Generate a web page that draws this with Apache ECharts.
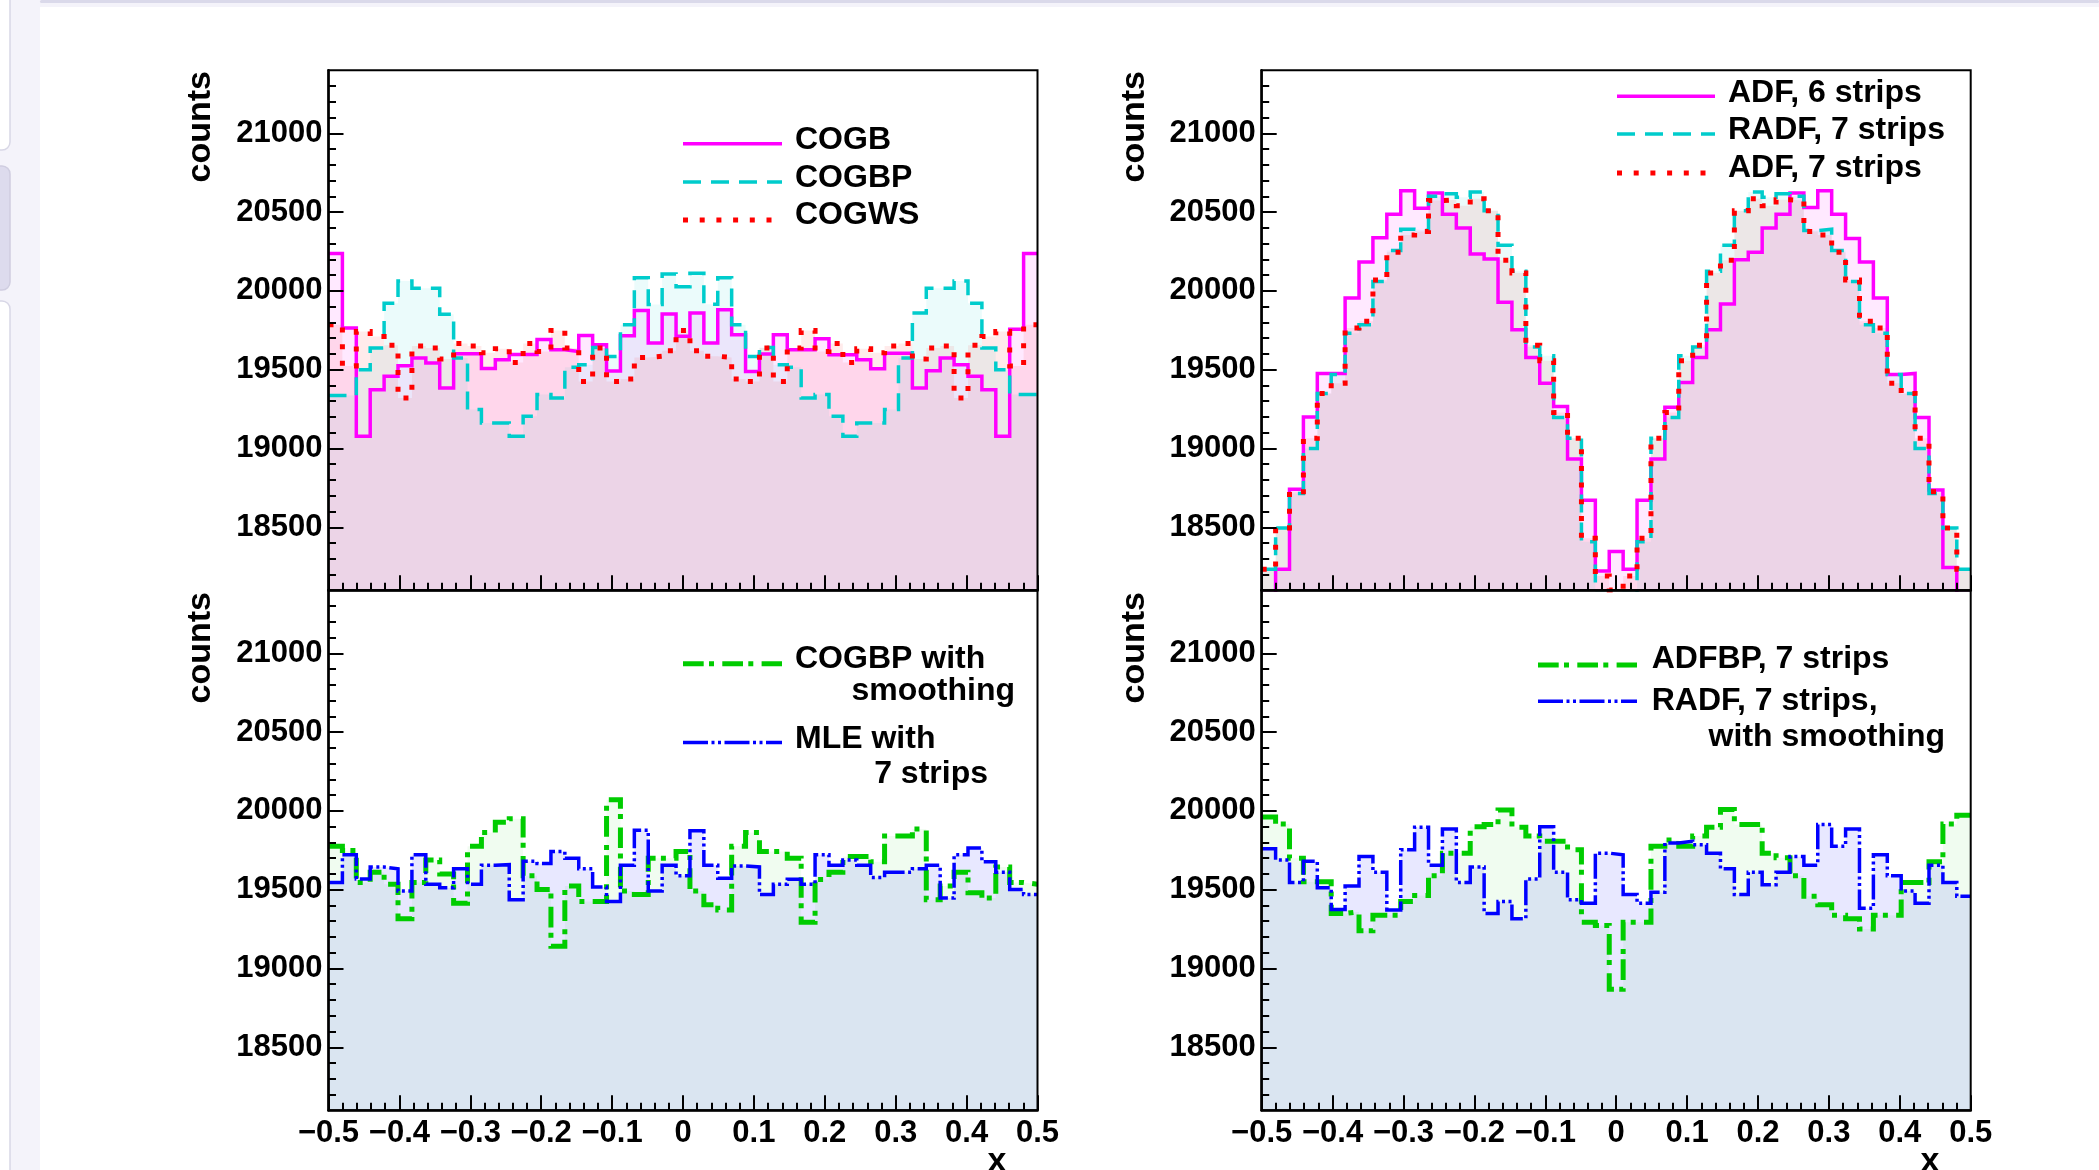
<!DOCTYPE html>
<html><head><meta charset="utf-8">
<script src="https://cdn.jsdelivr.net/npm/echarts@6/dist/echarts.min.js"></script>
<style>html,body{margin:0;padding:0;background:#fff;overflow:hidden}#c{width:2099px;height:1170px}</style>
</head><body><div id="c"></div>
<script>
// ---------- axis definition ----------
const NBINS = 51, XMIN = -0.5, XMAX = 0.5;
const Y_MIN = 18100, Y_MAX = 21400;
const Y_MAJOR = [18500, 19000, 19500, 20000, 20500, 21000];
const Y_MINOR = [];
for (let v = 18200; v <= 21300; v += 100) Y_MINOR.push(v);

// ---------- data (counts per bin) ----------
const cogb = [20238,19764,19078,19373,19458,19525,19574,19542,19384,19601,19601,19508,19563,19597,19597,19692,19627,19616,19717,19658,19492,19715,19876,19669,19854,19713,19859,19669,19880,19722,19489,19599,19722,19627,19627,19696,19595,19595,19563,19506,19605,19605,19384,19494,19574,19532,19458,19373,19078,19757,20238];
const cogbp = [19337,19337,19500,19637,19922,20063,20017,20017,19852,19574,19247,19162,19162,19078,19205,19342,19321,19515,19532,19641,19584,19785,20084,19913,20108,20027,20112,19916,20084,19785,19584,19641,19532,19515,19321,19342,19205,19078,19162,19162,19247,19574,19859,20017,20017,20063,19922,19637,19500,19342,19342];
const cogws = [19786,19524,19742,19710,19655,19320,19651,19638,19568,19666,19651,19607,19633,19546,19666,19616,19749,19638,19425,19638,19425,19441,19578,19585,19620,19749,19620,19585,19578,19441,19425,19638,19425,19638,19749,19616,19666,19546,19633,19607,19651,19666,19568,19638,19651,19320,19655,19710,19742,19524,19786];
const cogbpSmooth = [19775,19749,19546,19611,19535,19316,19546,19688,19600,19414,19775,19863,19928,19950,19589,19502,19141,19524,19425,19425,20071,19491,19469,19699,19699,19742,19491,19404,19371,19775,19863,19742,19742,19699,19294,19565,19611,19710,19710,19677,19841,19841,19885,19436,19524,19611,19480,19447,19644,19546,19535];
const mle7 = [19546,19721,19568,19644,19633,19491,19721,19535,19513,19633,19535,19655,19659,19436,19681,19666,19742,19699,19633,19517,19425,19655,19878,19491,19655,19589,19874,19655,19572,19650,19644,19469,19535,19567,19535,19721,19655,19688,19655,19578,19611,19611,19633,19655,19447,19721,19764,19677,19611,19502,19469];
const adf6 = [18080,18233,18741,19200,19476,19476,19955,20184,20337,20486,20635,20525,20622,20486,20399,20235,20202,19928,19753,19578,19414,19266,18933,18671,18222,18347,18233,18671,18933,19261,19419,19578,19753,19917,20197,20245,20399,20486,20622,20530,20635,20486,20333,20184,19955,19469,19476,19196,18737,18244,18080];
const radf7 = [18233,18496,18714,19000,19349,19469,19732,19786,20060,20256,20392,20383,20600,20617,20595,20628,20508,20289,20125,19644,19589,19196,19065,18408,18080,18080,18080,18408,19065,19196,19589,19644,20125,20289,20508,20628,20595,20617,20600,20383,20392,20256,20060,19786,19732,19469,19349,19000,18714,18496,18233];
const adf7 = [18233,18496,18725,19065,19349,19414,19764,19808,20070,20245,20355,20377,20574,20578,20541,20585,20508,20195,20114,19655,19557,19229,19065,18430,18190,18102,18190,18430,19065,19229,19557,19655,20114,20195,20508,20585,20541,20578,20574,20377,20355,20245,20070,19808,19764,19414,19349,19065,18725,18496,18233];
const adfbp7 = [19961,19917,19699,19550,19550,19349,19360,19240,19338,19338,19425,19463,19589,19732,19732,19900,19913,20005,19896,19841,19808,19808,19753,19294,19272,18868,19294,19294,19775,19815,19775,19841,19896,20009,19913,19913,19732,19703,19589,19458,19404,19338,19316,19250,19338,19338,19546,19546,19677,19917,19972];
const radf7Smooth = [19760,19688,19546,19681,19513,19375,19524,19710,19611,19371,19753,19896,19655,19885,19546,19644,19349,19425,19316,19568,19900,19611,19436,19414,19732,19721,19469,19414,19484,19797,19808,19786,19732,19633,19469,19611,19532,19611,19710,19655,19913,19775,19885,19382,19721,19589,19491,19414,19655,19546,19458];

// ---------- styles ----------
const MAG = '#ff00ff', CYA = '#00cccc', RED = '#ff0000', GRN = '#00cc00', BLU = '#0000ff';
const DASH = [18, 10], DOT = [5, 11.7], DASHDOT = [20.7, 5.3, 5, 8.3], DASHDOTDOT = [25, 3.5, 3, 3.5, 3, 3.5];
const FONT = "'Liberation Sans', Arial, Helvetica, sans-serif";
const FILL_ALPHA = {[MAG]: 0.085, [CYA]: 0.08, [RED]: 0.08, [GRN]: 0.06, [BLU]: 0.09};

const PW = 709, PH = 520;
const PANELS = [
  {left: 328.5, top: 70.3, labels: false, series: [
    {d: cogb, c: MAG, w: 3.5, t: 'solid'}, {d: cogbp, c: CYA, w: 3.5, t: DASH}, {d: cogws, c: RED, w: 5, t: DOT}]},
  {left: 328.5, top: 590.3, labels: true, series: [
    {d: cogbpSmooth, c: GRN, w: 5, t: DASHDOT}, {d: mle7, c: BLU, w: 3.5, t: DASHDOTDOT}]},
  {left: 1261.7, top: 70.3, labels: false, series: [
    {d: adf6, c: MAG, w: 3.5, t: 'solid'}, {d: radf7, c: CYA, w: 3.5, t: DASH}, {d: adf7, c: RED, w: 5, t: DOT}]},
  {left: 1261.7, top: 590.3, labels: true, series: [
    {d: adfbp7, c: GRN, w: 5, t: DASHDOT}, {d: radf7Smooth, c: BLU, w: 3.5, t: DASHDOTDOT}]}
];

function histPoints(vals) {
  const pts = [];
  const bw = (XMAX - XMIN) / NBINS;
  for (let k = 0; k < vals.length; k++) pts.push([XMIN + k * bw, vals[k]]);
  pts.push([XMAX, vals[vals.length - 1]]);
  return pts;
}

const grid = [], xAxis = [], yAxis = [], series = [];
PANELS.forEach((p, i) => {
  grid.push({left: p.left, top: p.top, width: PW, height: PH, show: true, z: 5, borderColor: '#000', borderWidth: 2, backgroundColor: 'transparent', containLabel: false});
  xAxis.push({
    gridIndex: i, type: 'value', position: 'bottom', min: XMIN, max: XMAX, interval: 0.1, z: 10,
    axisLine: {show: true, onZero: false, lineStyle: {color: '#000', width: 2.5}},
    axisTick: {show: true, inside: true, length: 15, lineStyle: {color: '#000', width: 2}},
    minorTick: {show: true, splitNumber: 5, length: 7.5, lineStyle: {color: '#000', width: 2}},
    splitLine: {show: false}, minorSplitLine: {show: false},
    axisLabel: {show: p.labels, showMinLabel: true, showMaxLabel: true, margin: 8, color: '#000',
      fontSize: 31, fontWeight: 'bold', fontFamily: FONT,
      formatter: v => { const r = Math.round(v * 10) / 10; if (Math.abs(r) < 1e-9) return '0'; return (r < 0 ? '\u2212' : '') + Math.abs(r).toFixed(1); }}
  });
  yAxis.push({
    gridIndex: i, type: 'value', position: 'left', offset: 0, min: Y_MIN, max: Y_MAX, z: 10,
    axisLine: {show: true, onZero: false, lineStyle: {color: '#000', width: 2.5}},
    axisTick: {show: true, inside: true, length: 15, customValues: Y_MAJOR, lineStyle: {color: '#000', width: 2}},
    axisLabel: {show: true, customValues: Y_MAJOR, margin: 6, color: '#000', fontSize: 31, fontWeight: 'bold', fontFamily: FONT,
      formatter: v => String(Math.round(v))},
    splitLine: {show: false}
  });
  yAxis.push({
    gridIndex: i, type: 'value', position: 'left', offset: 0, min: Y_MIN, max: Y_MAX, z: 10,
    axisLine: {show: false, onZero: false},
    axisTick: {show: true, inside: true, length: 7.5, customValues: Y_MINOR, lineStyle: {color: '#000', width: 2}},
    axisLabel: {show: false}, splitLine: {show: false}
  });
  p.series.forEach(s => {
    series.push({
      type: 'line', xAxisIndex: i, yAxisIndex: 2 * i, step: 'end', symbol: 'none', silent: true, z: 3,
      clip: true, animation: false, data: histPoints(s.d),
      lineStyle: {color: s.c, width: s.w, type: s.t, cap: 'butt', join: 'miter'},
      areaStyle: {color: s.c, opacity: FILL_ALPHA[s.c], origin: 'start'}
    });
  });
});

// ---------- decoration, legends & titles ----------
const G = [];
G.push({type: 'rect', z: 1, shape: {x: 0, y: 0, width: 40, height: 1170}, style: {fill: '#f4f3fa'}});
G.push({type: 'rect', z: 1, shape: {x: 40, y: 0, width: 2059, height: 7}, style: {fill: '#f4f3fa'}});
G.push({type: 'rect', z: 2, shape: {x: 40, y: 0, width: 2059, height: 3, r: 2}, style: {fill: '#dad9ea'}});
G.push({type: 'rect', z: 2, shape: {x: -12, y: -12, width: 22, height: 162, r: 8}, style: {fill: '#ffffff', stroke: '#d8d7e6', lineWidth: 1.5}});
G.push({type: 'rect', z: 2, shape: {x: -12, y: 166, width: 22, height: 124, r: 8}, style: {fill: '#dddbed', stroke: '#cfcde0', lineWidth: 1.5}});
G.push({type: 'rect', z: 2, shape: {x: -12, y: 301, width: 22, height: 900, r: 8}, style: {fill: '#ffffff', stroke: '#d8d7e6', lineWidth: 1.5}});

function legLine(x1, x2, y, c, w, dash) {
  G.push({type: 'line', z: 50, shape: {x1: x1, y1: y, x2: x2, y2: y}, style: {stroke: c, lineWidth: w, lineDash: dash === 'solid' ? null : dash, lineCap: 'butt'}});
}
function txt(x, y, s, align, size, rot) {
  G.push({type: 'text', z: 50, x: x, y: y, rotation: rot || 0,
    style: {text: s, x: 0, y: 0, fill: '#000', font: 'bold ' + (size || 32) + 'px ' + FONT, textAlign: align || 'left', textVerticalAlign: 'middle'}});
}
legLine(683, 782, 143.7, MAG, 3.5, 'solid'); txt(795, 140.6, 'COGB');
legLine(683, 782, 181.9, CYA, 3.5, DASH); txt(795, 178.5, 'COGBP');
legLine(683, 782, 220, RED, 5, DOT); txt(795, 215.6, 'COGWS');
legLine(1617, 1715, 96.2, MAG, 3.5, 'solid'); txt(1728, 93, 'ADF, 6 strips');
legLine(1617, 1715, 134, CYA, 3.5, DASH); txt(1728, 130, 'RADF, 7 strips');
legLine(1617, 1715, 173, RED, 5, DOT); txt(1728, 168, 'ADF, 7 strips');
legLine(683, 782, 663.7, GRN, 5, DASHDOT); txt(795, 659, 'COGBP with'); txt(1015, 691, 'smoothing', 'right');
legLine(683, 782, 742.5, BLU, 3.5, DASHDOTDOT); txt(795, 739.4, 'MLE with'); txt(988, 773.8, '7 strips', 'right');
legLine(1538, 1637, 665, GRN, 5, DASHDOT); txt(1651.7, 659, 'ADFBP, 7 strips');
legLine(1538, 1637, 701.2, BLU, 3.5, DASHDOTDOT); txt(1651.7, 701.5, 'RADF, 7 strips,'); txt(1945, 737, 'with smoothing', 'right');
txt(201, 71, 'counts', 'right', 34, Math.PI / 2);
txt(201, 592, 'counts', 'right', 34, Math.PI / 2);
txt(1135, 71, 'counts', 'right', 34, Math.PI / 2);
txt(1135, 592, 'counts', 'right', 34, Math.PI / 2);
txt(997, 1162, 'x', 'center', 34);
txt(1930, 1162, 'x', 'center', 34);

const chart = echarts.init(document.getElementById('c'), null, {renderer: 'canvas'});
chart.setOption({animation: false, backgroundColor: '#ffffff', grid, xAxis, yAxis, series, graphic: {elements: G}});
</script>
</body></html>
